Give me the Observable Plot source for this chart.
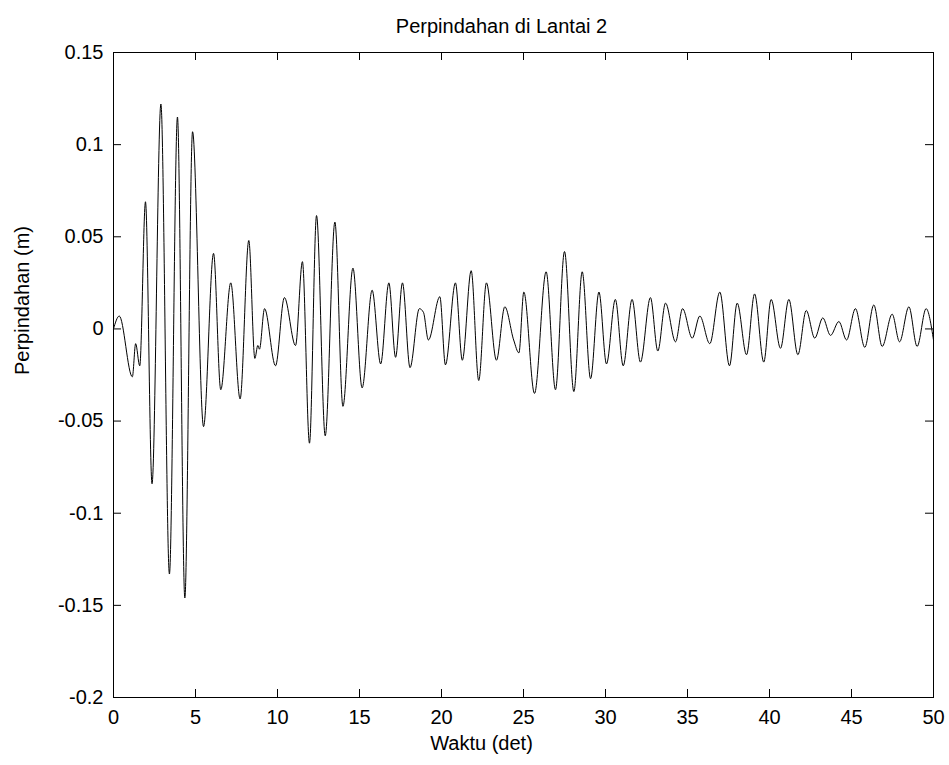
<!DOCTYPE html>
<html><head><meta charset="utf-8">
<script src="https://cdn.jsdelivr.net/npm/d3@7"></script>
<script src="https://cdn.jsdelivr.net/npm/@observablehq/plot@0.6"></script>
<style>body{margin:0;background:#fff}</style>
</head><body><div id="chart"></div>
<script>
// Extrema of the displacement signal (time in s, displacement in m)
const times = [0, 0.35, 1.15, 1.35, 1.6, 1.95, 2.35, 2.89, 3.41, 3.9, 4.35, 4.82, 5.49, 6.1, 6.54, 7.15, 7.72, 8.25, 8.62, 8.8, 8.9, 9.21, 9.88, 10.42, 11.1, 11.52, 11.95, 12.38, 12.91, 13.5, 13.99, 14.6, 15.16, 15.77, 16.29, 16.79, 17.2, 17.62, 18.08, 18.65, 18.9, 19.2, 19.9, 20.24, 20.85, 21.27, 21.81, 22.27, 22.74, 23.35, 23.86, 24.4, 24.72, 25.02, 25.67, 26.38, 26.95, 27.5, 28.07, 28.58, 29.09, 29.6, 30.06, 30.6, 31.08, 31.62, 32.13, 32.74, 33.19, 33.66, 34.27, 34.7, 35.29, 35.75, 36.36, 36.97, 37.56, 38.03, 38.6, 39.09, 39.65, 40.1, 40.67, 41.18, 41.73, 42.24, 42.76, 43.25, 43.72, 44.23, 44.7, 45.24, 45.81, 46.36, 46.87, 47.48, 47.93, 48.5, 49.0, 49.55, 50];
const values = [0, 0.007, -0.026, -0.008, -0.02, 0.069, -0.084, 0.122, -0.133, 0.115, -0.146, 0.107, -0.053, 0.041, -0.033, 0.025, -0.038, 0.048, -0.016, -0.009, -0.011, 0.011, -0.020, 0.017, -0.009, 0.0365, -0.062, 0.0615, -0.058, 0.058, -0.042, 0.033, -0.032, 0.021, -0.019, 0.025, -0.0154, 0.025, -0.021, 0.011, 0.009, -0.006, 0.0175, -0.0195, 0.025, -0.017, 0.0316, -0.028, 0.025, -0.017, 0.012, -0.006, -0.013, 0.02, -0.035, 0.031, -0.033, 0.042, -0.034, 0.031, -0.027, 0.02, -0.019, 0.016, -0.020, 0.016, -0.018, 0.017, -0.012, 0.014, -0.007, 0.011, -0.005, 0.007, -0.008, 0.020, -0.020, 0.014, -0.014, 0.019, -0.018, 0.016, -0.0105, 0.016, -0.014, 0.010, -0.005, 0.006, -0.0035, 0.004, -0.006, 0.011, -0.010, 0.013, -0.0095, 0.008, -0.007, 0.012, -0.0095, 0.011, -0.006];

const xTicks = [0, 5, 10, 15, 20, 25, 30, 35, 40, 45, 50];
const xTickLabels = ["0", "5", "10", "15", "20", "25", "30", "35", "40", "45", "50"];
const yTicks = [-0.2, -0.15, -0.1, -0.05, 0, 0.05, 0.1, 0.15];
const yTickLabels = ["-0.2", "-0.15", "-0.1", "-0.05", "0", "0.05", "0.1", "0.15"];
const titleText = "Perpindahan di Lantai 2";
const xLabel = "Waktu (det)";
const yLabel = "Perpindahan (m)";

const data = times.map((t, i) => ({t, v: values[i]}));
const W = 949, H = 765, mL = 113, mR = 16, mT = 52, mB = 68;
const pw = W - mL - mR, ph = H - mT - mB;
const tickLen = 8;
const font = "'Liberation Sans', Arial, Helvetica, sans-serif";

const chart = Plot.plot({
  width: W, height: H,
  marginLeft: mL, marginRight: mR, marginTop: mT, marginBottom: mB,
  style: {fontFamily: font, fontSize: "20px", background: "white", color: "black", overflow: "visible"},
  x: {domain: [0, 50]},
  y: {domain: [-0.2, 0.15]},
  marks: [
    Plot.line(data, {x: "t", y: "v", curve: "monotone-x", stroke: "black", strokeWidth: 1}),
    Plot.tickX(xTicks, {x: d => d, insetTop: ph - tickLen, stroke: "black"}),
    Plot.tickX(xTicks, {x: d => d, insetBottom: ph - tickLen, stroke: "black"}),
    Plot.tickY(yTicks, {y: d => d, insetRight: pw - tickLen, stroke: "black"}),
    Plot.tickY(yTicks, {y: d => d, insetLeft: pw - tickLen, stroke: "black"}),
    Plot.frame({stroke: "black", strokeWidth: 1}),
    Plot.axisX(xTicks, {tickSize: 0, tickPadding: 12, label: null, fontSize: 20,
      tickFormat: d => xTickLabels[xTicks.indexOf(d)]}),
    Plot.axisY(yTicks, {tickSize: 0, tickPadding: 10, label: null, fontSize: 20,
      tickFormat: d => yTickLabels[yTicks.indexOf(d)]}),
    Plot.text([titleText], {frameAnchor: "top", dy: -34, dx: -22, fontSize: 20, fill: "black"}),
    Plot.text([xLabel], {frameAnchor: "bottom", dy: 52, dx: -42, fontSize: 20, fill: "black"}),
    Plot.text([yLabel], {frameAnchor: "left", dx: -91, rotate: -90, fontSize: 20, fill: "black"})
  ]
});
document.getElementById("chart").appendChild(chart);
</script>
</body></html>
